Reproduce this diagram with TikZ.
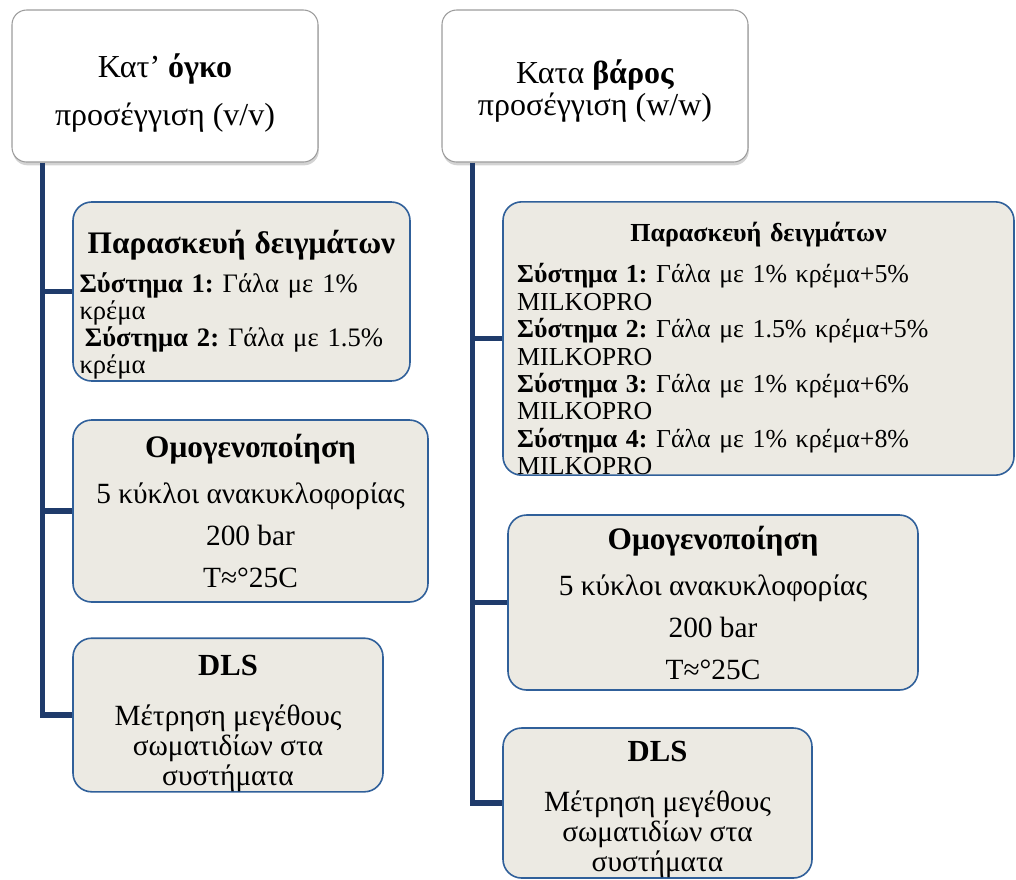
\documentclass[tikz,border=0pt]{standalone}
\usepackage{fontspec}
\setmainfont{Liberation Serif}
\frenchspacing
\usetikzlibrary{shadows}
\definecolor{trunkblue}{HTML}{1F3B6B}
\definecolor{boxblue}{HTML}{30609A}
\definecolor{boxfill}{HTML}{ECEAE3}
\definecolor{topgray}{HTML}{9C9C9C}
\tikzset{
  headbox/.style={draw=topgray, line width=0.8pt, fill=white, rounded corners=11pt,
    drop shadow={shadow xshift=0.6pt, shadow yshift=-2.5pt, opacity=0.35},
    align=center, inner sep=0pt, minimum width=229.5pt, minimum height=114pt},
  stepbox/.style={draw=boxblue, line width=1.2pt, fill=boxfill, rounded corners=14pt, inner sep=0pt},
  trunk/.style={draw=trunkblue, line width=3.8pt},
}
\begin{document}
\begin{tikzpicture}[x=0.75pt,y=-0.75pt]
  \useasboundingbox (0,0) rectangle (1016,879);
  % top boxes
  \node[headbox, font=\fontsize{24}{36}\selectfont] (vol) at (165,86)
    {\rule{0pt}{29pt}Κατ’ \textbf{όγκο}\\ προσέγγιση (v/v)};
  \node[headbox, font=\fontsize{24}{24}\selectfont] (wt) at (595,86)
    {\rule{0pt}{25pt}Κατα \textbf{βάρος}\\ προσέγγιση (w/w)};
  % left column (v/v)
  \node[stepbox, minimum width=252.75pt, minimum height=134.25pt, text width=243pt, align=left,
    font=\fontsize{20}{20.25}\selectfont] (vprep) at (241.5,291.5)
    {\makebox[\linewidth][c]{\rule{0pt}{37pt}\fontsize{23.5}{24}\selectfont\bfseries Παρασκευή δειγμάτων}\\[9pt]
     \textbf{Σύστημα 1:} Γάλα με 1\%\\ κρέμα\\
     \hspace*{4pt}\textbf{Σύστημα 2:} Γάλα με 1.5\%\\ κρέμα};
  \node[stepbox, minimum width=266.25pt, minimum height=136.5pt, align=center,
    font=\fontsize{22}{31.5}\selectfont] (vhom) at (250.5,511)
    {\fontsize{23.5}{31.5}\selectfont\textbf{Ομογενοποίηση}\\[3pt] 5 κύκλοι ανακυκλοφορίας\\ 200 bar\\ T≈°25C};
  \node[stepbox, minimum width=232.5pt, minimum height=112.5pt, align=center,
    font=\fontsize{22}{22.5}\selectfont] (vdls) at (228,715)
    {\rule{0pt}{28pt}\fontsize{23}{22.5}\selectfont\textbf{DLS}\\[15pt] Μέτρηση μεγέθους\\ σωματιδίων στα\\ συστήματα};
  % right column (w/w)
  \node[stepbox, minimum width=383.25pt, minimum height=204.75pt, text width=362pt, align=left,
    font=\fontsize{19.4}{20.6}\selectfont] (wprep) at (758.5,338.5)
    {\makebox[\linewidth][c]{\rule{0pt}{30pt}\fontsize{19.5}{20}\selectfont\bfseries Παρασκευή δειγμάτων}\\[10pt]
     \textbf{Σύστημα 1:} Γάλα με 1\% κρέμα+5\%\\ MILKOPRO\\
     \textbf{Σύστημα 2:} Γάλα με 1.5\% κρέμα+5\%\\ MILKOPRO\\
     \textbf{Σύστημα 3:} Γάλα με 1\% κρέμα+6\%\\ MILKOPRO\\
     \textbf{Σύστημα 4:} Γάλα με 1\% κρέμα+8\%\\ MILKOPRO};
  \node[stepbox, minimum width=307.5pt, minimum height=131.25pt, align=center,
    font=\fontsize{22}{31.5}\selectfont] (whom) at (713,602.5)
    {\fontsize{23.5}{31.5}\selectfont\textbf{Ομογενοποίηση}\\[3pt] 5 κύκλοι ανακυκλοφορίας\\ 200 bar\\ T≈°25C};
  \node[stepbox, minimum width=231.75pt, minimum height=112.5pt, align=center,
    font=\fontsize{22}{22.5}\selectfont] (wdls) at (657.5,803)
    {\rule{0pt}{25pt}\fontsize{23}{22.5}\selectfont\textbf{DLS}\\[15pt] Μέτρηση μεγέθους\\ σωματιδίων στα\\ συστήματα};
  % connectors
  \coordinate (vt) at ([xshift=23.25pt]vol.south west);
  \coordinate (wtt) at ([xshift=23.25pt]wt.south west);
  \draw[trunk] (vt) |- (vdls.west);
  \draw[trunk] (vt |- vprep.west) -- (vprep.west);
  \draw[trunk] (vt |- vhom.west) -- (vhom.west);
  \draw[trunk] (wtt) |- (wdls.west);
  \draw[trunk] (wtt |- wprep.west) -- (wprep.west);
  \draw[trunk] (wtt |- whom.west) -- (whom.west);
\end{tikzpicture}
\end{document}
